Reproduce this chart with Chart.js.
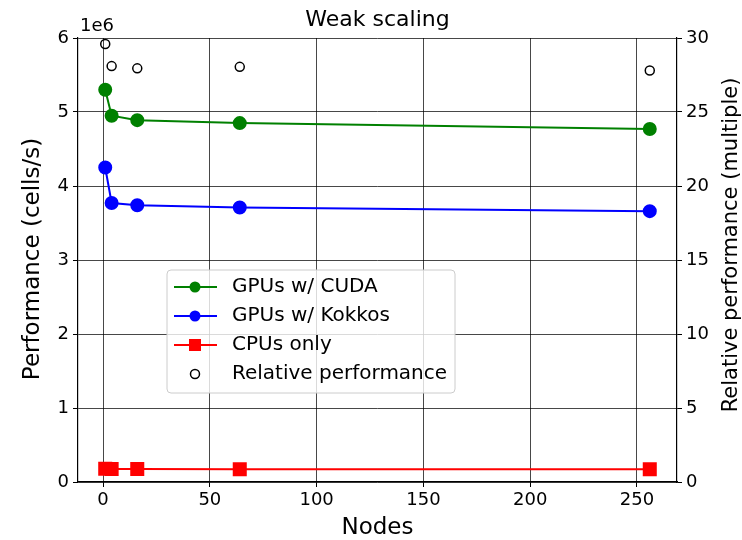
<!DOCTYPE html>
<html>
<head>
<meta charset="utf-8">
<script src="https://cdn.jsdelivr.net/npm/chart.js@4"></script>
<style>
  body { margin: 0; background: #fff; }
  #wrap { width: 742px; height: 540px; }
</style>
</head>
<body>
<div id="wrap"><canvas id="chart" width="742" height="540"></canvas></div>
<script>
const nodes = [1, 4, 16, 64, 256];
const cudaPerf = [5.30e6, 4.95e6, 4.89e6, 4.85e6, 4.77e6];
const kokkosPerf = [4.25e6, 3.77e6, 3.74e6, 3.71e6, 3.66e6];
const cpuPerf = [0.179e6, 0.176e6, 0.1755e6, 0.173e6, 0.1715e6];
const relativePerf = [29.6, 28.1, 27.95, 28.05, 27.8];
const xTicks = [0, 50, 100, 150, 200, 250];

const FONT = 'DejaVu Sans';
const gridColor = 'rgba(0,0,0,0.72)';

function toPoints(ys) {
    return nodes.map((n, i) => ({ x: n, y: ys[i] }));
}

function rotatedText(ctx, text, x, y) {
    ctx.save();
    ctx.translate(x, y);
    ctx.rotate(-Math.PI / 2);
    ctx.fillText(text, 0, 0);
    ctx.restore();
}

// title, axis labels, offset text and legend, drawn matplotlib style
const extras = {
    id: 'extras',
    afterDraw(chart) {
        const ctx = chart.ctx;
        const area = chart.chartArea;
        ctx.save();
        ctx.fillStyle = '#000';
        ctx.textBaseline = 'middle';
        ctx.textAlign = 'center';
        ctx.font = '22px "' + FONT + '"';
        ctx.fillText('Weak scaling', (area.left + area.right) / 2, 20);

        ctx.font = '23px "' + FONT + '"';
        ctx.fillText('Nodes', (area.left + area.right) / 2, 528);
        rotatedText(ctx, 'Performance (cells/s)', 33, 259);
        ctx.font = '21px "' + FONT + '"';
        rotatedText(ctx, 'Relative performance (multiple)', 732, 245);

        ctx.textAlign = 'left';
        ctx.font = '18px "' + FONT + '"';
        ctx.fillText('1e6', 80, 26);

        // legend box
        const bx = 167, by = 270, bw = 288, bh = 123;
        ctx.beginPath();
        ctx.roundRect(bx, by, bw, bh, 4);
        ctx.fillStyle = 'rgba(255,255,255,0.8)';
        ctx.fill();
        ctx.strokeStyle = '#cccccc';
        ctx.lineWidth = 1;
        ctx.stroke();

        const rows = [
            { label: 'GPUs w/ CUDA', color: 'green', marker: 'circle', line: true },
            { label: 'GPUs w/ Kokkos', color: 'blue', marker: 'circle', line: true },
            { label: 'CPUs only', color: 'red', marker: 'square', line: true },
            { label: 'Relative performance', color: '#000', marker: 'open', line: false }
        ];
        rows.forEach((r, i) => {
            const y = 287 + i * 29;
            if (r.line) {
                ctx.beginPath();
                ctx.moveTo(174, y);
                ctx.lineTo(217, y);
                ctx.strokeStyle = r.color;
                ctx.lineWidth = 2;
                ctx.stroke();
            }
            if (r.marker === 'circle') {
                ctx.beginPath();
                ctx.arc(195, y, 5.5, 0, Math.PI * 2);
                ctx.fillStyle = r.color;
                ctx.fill();
            } else if (r.marker === 'square') {
                ctx.fillStyle = r.color;
                ctx.fillRect(189, y - 6, 12, 12);
            } else {
                ctx.beginPath();
                ctx.arc(195, y, 4.5, 0, Math.PI * 2);
                ctx.strokeStyle = '#000';
                ctx.lineWidth = 1.5;
                ctx.stroke();
            }
            ctx.fillStyle = '#000';
            ctx.font = '20px "' + FONT + '"';
            ctx.textAlign = 'left';
            ctx.fillText(r.label, 232, y);
        });
        ctx.restore();
    }
};

new Chart(document.getElementById('chart'), {
    type: 'line',
    data: {
        datasets: [
            {
                label: 'GPUs w/ CUDA',
                data: toPoints(cudaPerf),
                borderColor: 'green',
                backgroundColor: 'green',
                borderWidth: 2,
                pointRadius: 6,
                pointStyle: 'circle',
                yAxisID: 'y'
            },
            {
                label: 'GPUs w/ Kokkos',
                data: toPoints(kokkosPerf),
                borderColor: 'blue',
                backgroundColor: 'blue',
                borderWidth: 2,
                pointRadius: 6,
                pointStyle: 'circle',
                yAxisID: 'y'
            },
            {
                label: 'CPUs only',
                data: toPoints(cpuPerf),
                borderColor: 'red',
                backgroundColor: 'red',
                borderWidth: 2,
                pointRadius: 8.5,
                pointStyle: 'rect',
                yAxisID: 'y'
            },
            {
                label: 'Relative performance',
                data: toPoints(relativePerf),
                showLine: false,
                borderColor: '#000',
                backgroundColor: 'rgba(0,0,0,0)',
                pointBorderWidth: 1.5,
                pointRadius: 4.5,
                pointStyle: 'circle',
                yAxisID: 'y1'
            }
        ]
    },
    options: {
        responsive: false,
        animation: false,
        layout: { padding: { top: 38, left: 0, right: 0, bottom: 0 } },
        plugins: {
            legend: { display: false },
            tooltip: { enabled: false }
        },
        scales: {
            x: {
                type: 'linear',
                min: -11.75,
                max: 268.75,
                afterBuildTicks: axis => { axis.ticks = xTicks.map(v => ({ value: v })); },
                afterFit: axis => { axis.height = 58; },
                grid: { color: gridColor, tickColor: '#000', tickLength: 5, lineWidth: 1 },
                border: { color: '#000', width: 1.2 },
                ticks: { color: '#000', font: { family: FONT, size: 18 }, padding: 3, maxRotation: 0 }
            },
            y: {
                position: 'left',
                min: 0,
                max: 6e6,
                afterBuildTicks: axis => { axis.ticks = [0, 1, 2, 3, 4, 5, 6].map(v => ({ value: v * 1e6 })); },
                afterFit: axis => { axis.width = 78; },
                grid: { color: gridColor, tickColor: '#000', tickLength: 5, lineWidth: 1 },
                border: { color: '#000', width: 1.2 },
                ticks: { color: '#000', font: { family: FONT, size: 18 }, padding: 4, callback: v => String(v / 1e6) }
            },
            y1: {
                position: 'right',
                min: 0,
                max: 30,
                afterBuildTicks: axis => { axis.ticks = [0, 5, 10, 15, 20, 25, 30].map(v => ({ value: v })); },
                afterFit: axis => { axis.width = 65; },
                grid: { drawOnChartArea: false, tickColor: '#000', tickLength: 5 },
                border: { color: '#000', width: 1.2 },
                ticks: { color: '#000', font: { family: FONT, size: 18 }, padding: 4 }
            }
        }
    },
    plugins: [extras]
});
</script>
</body>
</html>
